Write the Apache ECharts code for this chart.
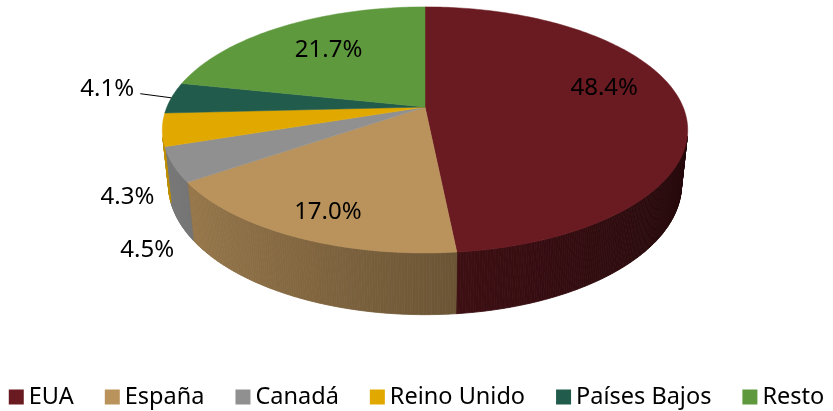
<!DOCTYPE html>
<html>
<head>
<meta charset="utf-8">
<script src="https://cdn.jsdelivr.net/npm/echarts@6/dist/echarts.min.js"></script>
<style>
  html, body { margin: 0; padding: 0; background: #fff; }
  #container_pie { width: 833px; height: 411px; }
</style>
</head>
<body>
<div id="container_pie"></div>
<script>
// datos
var categories = ['EUA', 'España', 'Canadá', 'Reino Unido', 'Países Bajos', 'Resto'];
var shares = [48.4, 17.0, 4.5, 4.3, 4.1, 21.7];
var colors = ['#6A1A21', '#BA935C', '#909090', '#E1A900', '#215B4B', '#5F993E'];

// layout of the fake 3d pie (perspective camera)
var CX = 425, CY = 107, FOCAL = 1229, DIST = 4.762, TILT = 27.4 * Math.PI / 180, DEPTH = 0.24;
var labelOffsets = [[0, -15], [-11, 20], [-29, 57], [-38, 40], [-67, -36], [7, 2]];
var labelOutside = [false, false, true, true, true, false];
var leaderLine = [false, false, false, false, true, false];
var FONT = '"Noto Sans", sans-serif';

var total = shares.reduce(function (a, b) { return a + b; }, 0);

function proj(theta, r, h) {
    var X = r * Math.sin(theta), Z = r * Math.cos(theta), Y = h;
    var s = Math.sin(TILT), c = Math.cos(TILT);
    var yc = Y * c + Z * s, zc = DIST + Z * c - Y * s;
    return [CX + FOCAL * X / zc, CY - FOCAL * yc / zc];
}

function shade(hex, f) {
    var n = parseInt(hex.slice(1), 16);
    var r = Math.round(((n >> 16) & 255) * f), g = Math.round(((n >> 8) & 255) * f), b = Math.round((n & 255) * f);
    return 'rgb(' + r + ',' + g + ',' + b + ')';
}

function area(pts) {
    var a = 0;
    for (var i = 0; i < pts.length; i++) {
        var p = pts[i], q = pts[(i + 1) % pts.length];
        a += p[0] * q[1] - q[0] * p[1];
    }
    return a;
}

function makeRender(idx) {
    return function (params, api) {
        var before = 0;
        for (var k = 0; k < idx; k++) before += shares[k];
        var a0 = before / total * Math.PI * 2;
        var a1 = (before + api.value(0)) / total * Math.PI * 2;
        var color = colors[idx];
        var children = [];

        // outer wall, thin strips with simple lighting
        var step = 0.5 * Math.PI / 180;
        for (var t = a0; t < a1 - 1e-9; t += step) {
            var t2 = Math.min(t + step, a1);
            var pts = [proj(t, 1, 0), proj(t2, 1, 0), proj(t2, 1, -DEPTH), proj(t, 1, -DEPTH)];
            if (area(pts) >= 0) continue;
            var tm = (t + t2) / 2;
            var f = 0.6 + 0.25 * Math.sin(tm - Math.PI);
            var col = shade(color, f);
            children.push({
                type: 'polygon',
                z2: 0,
                shape: { points: pts },
                style: { fill: col, stroke: col, lineWidth: 0.8 }
            });
        }

        // top face
        var top = [proj(0, 0, 0)];
        var n = Math.max(2, Math.ceil((a1 - a0) / (Math.PI / 180)));
        for (var j = 0; j <= n; j++) {
            top.push(proj(a0 + (a1 - a0) * j / n, 1, 0));
        }
        children.push({
            type: 'polygon',
            z2: 10,
            shape: { points: top },
            style: { fill: color, stroke: color, lineWidth: 0.5 }
        });

        // label
        var mid = (a0 + a1) / 2;
        var anchor = labelOutside[idx] ? proj(mid, 1, -DEPTH / 2) : proj(mid, 0.7, 0);
        var lx = anchor[0] + labelOffsets[idx][0], ly = anchor[1] + labelOffsets[idx][1];
        children.push({
            type: 'text',
            z2: 30,
            style: {
                x: lx, y: ly,
                text: api.value(0).toFixed(1) + '%',
                fill: '#000',
                font: '24px ' + FONT,
                align: 'center',
                verticalAlign: 'middle'
            }
        });
        if (leaderLine[idx]) {
            var end = proj(mid, 1, 0);
            children.push({
                type: 'line',
                z2: 30,
                shape: { x1: lx + 33, y1: ly + 5, x2: end[0], y2: end[1] },
                style: { stroke: '#000', lineWidth: 1 }
            });
        }
        return { type: 'group', children: children };
    };
}

var pieChart = echarts.init(document.getElementById('container_pie'));

var series = categories.map(function (name, i) {
    return {
        type: 'custom',
        name: name,
        coordinateSystem: 'none',
        silent: true,
        itemStyle: { color: colors[i] },
        data: [[shares[i]]],
        renderItem: makeRender(i)
    };
});

var option = {
    animation: false,
    backgroundColor: '#fff',
    legend: {
        top: 380,
        left: 'center',
        icon: 'rect',
        itemWidth: 15,
        itemHeight: 15,
        itemGap: 31,
        textStyle: { fontSize: 23.5, fontFamily: FONT, color: '#000' },
        data: categories
    },
    series: series
};
pieChart.setOption(option);
</script>
</body>
</html>
